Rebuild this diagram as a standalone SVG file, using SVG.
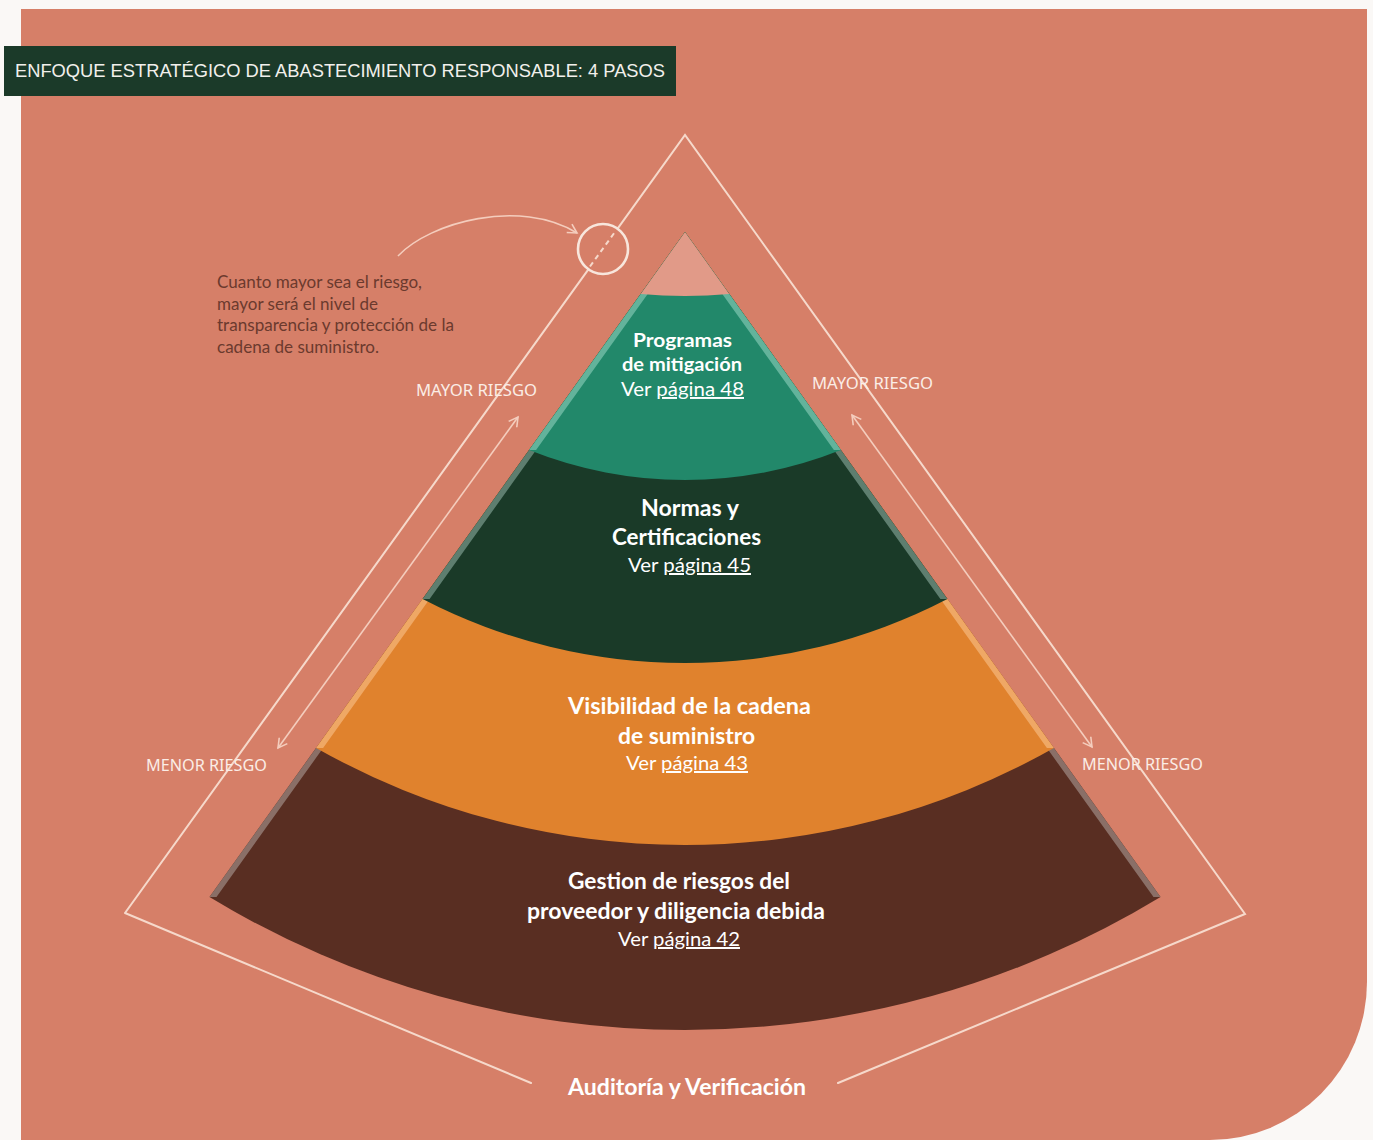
<svg xmlns="http://www.w3.org/2000/svg" width="1373" height="1140" viewBox="0 0 1373 1140">
<defs>
<style>
.line{fill:none;stroke:#F6D9CB;stroke-width:2;stroke-linecap:round;stroke-linejoin:miter}
.arr{fill:none;stroke:#F4CDBD;stroke-width:1.6}
.risk{font-family:"Noto Sans","Liberation Sans",sans-serif;font-size:15.5px;fill:#FBEDE6}
.bt{font-family:Lato,"Noto Sans",sans-serif;font-weight:bold;fill:#FFFFFF;text-anchor:middle}
.vt{font-family:Lato,"Noto Sans",sans-serif;fill:#FFFFFF;text-anchor:middle}
.para{font-family:Lato,"Noto Sans",sans-serif;font-size:16.5px;fill:#6B3A2E}
</style>
<marker id="ah" viewBox="0 0 12 12" refX="10" refY="6" markerWidth="12" markerHeight="12" markerUnits="userSpaceOnUse" orient="auto-start-reverse">
<path d="M1,1 L10,6 L1,11" fill="none" stroke="#F4CDBD" stroke-width="1.6"/>
</marker>
</defs>
<rect width="1373" height="1140" fill="#FAF8F6"/>
<path id="background" d="M21,9 H1367 V982 A157,158 0 0 1 1210,1140 H21 Z" fill="#D67F68"/>

<g id="title">
<rect x="4" y="46" width="672" height="50" fill="#1B3A29"/>
<text x="15" y="77" font-family="'Liberation Sans',Arial,sans-serif" font-size="18" fill="#F2F0EC" textLength="650" lengthAdjust="spacingAndGlyphs">ENFOQUE ESTRATÉGICO DE ABASTECIMIENTO RESPONSABLE: 4 PASOS</text>
</g>

<g id="connectors">
<path class="line" d="M125,913 L588.4,269.3 M617.6,228.7 L685,135 L1245,914 L838,1083 M531,1083 L125,913"/>
<line x1="590" y1="266.5" x2="616" y2="230.5" stroke="#F6D9CB" stroke-width="2" stroke-dasharray="5 4"/>
<circle cx="603" cy="249" r="25" fill="none" stroke="#F8E6DC" stroke-width="2.6"/>
<path class="arr" d="M398,256 C430,222 520,198 577,233" marker-end="url(#ah)"/>
<line class="arr" x1="518" y1="417" x2="278" y2="748" marker-start="url(#ah)" marker-end="url(#ah)"/>
<line class="arr" x1="852" y1="415" x2="1092" y2="747" marker-start="url(#ah)" marker-end="url(#ah)"/>
</g>

<g id="node-gestion">
<path d="M685,232 L209.5,897 A916.5,916.5 0 0 0 1160.5,897 Z" fill="#592E22"/>
<path d="M316.1,748 L323.1,748 L216.5,897 L209.5,897 Z M1053.9,748 L1046.9,748 L1153.5,897 L1160.5,897 Z" fill="#8A6F67"/>
</g>
<g id="node-visibilidad">
<path d="M685,232 L316.1,748 A750,750 0 0 0 1053.9,748 Z" fill="#E0822D"/>
<path d="M422.6,599 L429.6,599 L323.1,748 L316.1,748 Z M947.4,599 L940.4,599 L1046.9,748 L1053.9,748 Z" fill="#EFA865"/>
</g>
<g id="node-normas">
<path d="M685,232 L422.6,599 A570,570 0 0 0 947.4,599 Z" fill="#1A3A28"/>
<path d="M529.1,450 L536.1,450 L429.6,599 L422.6,599 Z M840.9,450 L833.9,450 L940.4,599 L947.4,599 Z" fill="#5E7E6F"/>
</g>
<g id="node-programas">
<path d="M685,232 L529.1,450 A420,420 0 0 0 840.9,450 Z" fill="#22886A"/>
<path d="M640.7,294 L647.7,294 L536.1,450 L529.1,450 Z M729.3,294 L722.3,294 L833.9,450 L840.9,450 Z" fill="#63B39B"/>
</g>
<g id="node-tip">
<path d="M685,232 L640.7,294 A491,491 0 0 0 729.3,294 Z" fill="#E19A88"/>
</g>

<g id="labels">
<text class="bt" x="682.5" y="347" font-size="19" textLength="99" lengthAdjust="spacingAndGlyphs">Programas</text>
<text class="bt" x="682" y="371" font-size="19" textLength="120" lengthAdjust="spacingAndGlyphs">de mitigación</text>
<text class="vt" x="682.5" y="396" font-size="19.5" textLength="123" lengthAdjust="spacingAndGlyphs">Ver <tspan text-decoration="underline">página 48</tspan></text>

<text class="bt" x="690" y="516" font-size="22" textLength="98" lengthAdjust="spacingAndGlyphs">Normas y</text>
<text class="bt" x="686.5" y="545" font-size="22" textLength="149" lengthAdjust="spacingAndGlyphs">Certificaciones</text>
<text class="vt" x="689.5" y="572" font-size="20" textLength="123" lengthAdjust="spacingAndGlyphs">Ver <tspan text-decoration="underline">página 45</tspan></text>

<text class="bt" x="689.5" y="714" font-size="22" textLength="243" lengthAdjust="spacingAndGlyphs">Visibilidad de la cadena</text>
<text class="bt" x="686.5" y="744" font-size="22" textLength="137" lengthAdjust="spacingAndGlyphs">de suministro</text>
<text class="vt" x="687" y="770" font-size="20" textLength="122" lengthAdjust="spacingAndGlyphs">Ver <tspan text-decoration="underline">página 43</tspan></text>

<text class="bt" x="679" y="889" font-size="22" textLength="222" lengthAdjust="spacingAndGlyphs">Gestion de riesgos del</text>
<text class="bt" x="676" y="919" font-size="22" textLength="298" lengthAdjust="spacingAndGlyphs">proveedor y diligencia debida</text>
<text class="vt" x="679" y="946" font-size="20" textLength="122" lengthAdjust="spacingAndGlyphs">Ver <tspan text-decoration="underline">página 42</tspan></text>

<text class="bt" x="687" y="1095" font-size="22" textLength="238" lengthAdjust="spacingAndGlyphs">Auditoría y Verificación</text>

<text class="risk" x="416" y="396" textLength="121" lengthAdjust="spacingAndGlyphs">MAYOR RIESGO</text>
<text class="risk" x="812" y="389" textLength="121" lengthAdjust="spacingAndGlyphs">MAYOR RIESGO</text>
<text class="risk" x="146" y="771" textLength="121" lengthAdjust="spacingAndGlyphs">MENOR RIESGO</text>
<text class="risk" x="1082" y="770" textLength="121" lengthAdjust="spacingAndGlyphs">MENOR RIESGO</text>

<text class="para" x="217" y="288" textLength="205" lengthAdjust="spacingAndGlyphs">Cuanto mayor sea el riesgo,</text>
<text class="para" x="217" y="310" textLength="161" lengthAdjust="spacingAndGlyphs">mayor será el nivel de</text>
<text class="para" x="217" y="331" textLength="237" lengthAdjust="spacingAndGlyphs">transparencia y protección de la</text>
<text class="para" x="217" y="353" textLength="162" lengthAdjust="spacingAndGlyphs">cadena de suministro.</text>
</g>
</svg>
